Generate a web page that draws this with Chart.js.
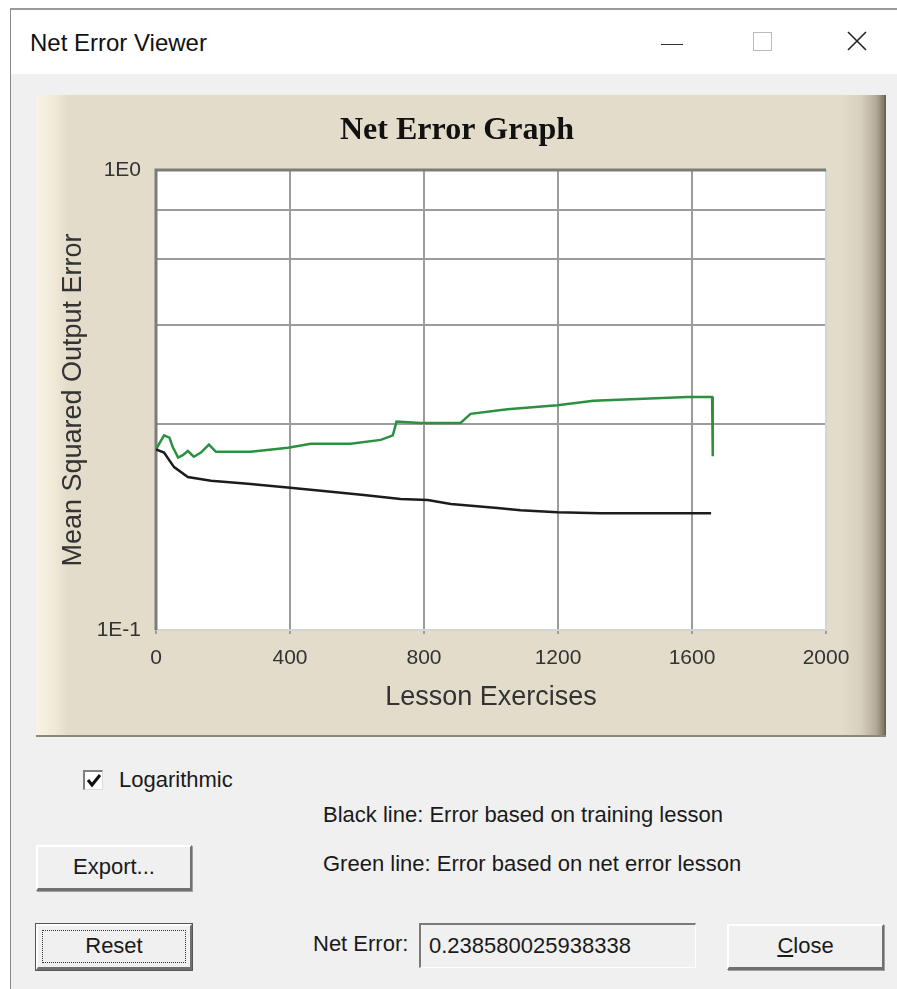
<!DOCTYPE html>
<html>
<head>
<meta charset="utf-8">
<title>Net Error Viewer</title>
<script src="https://cdn.jsdelivr.net/npm/chart.js@4.4.1/dist/chart.umd.min.js"></script>
<style>
    body { margin: 0; background: #fff; font-family: "Liberation Sans", Arial, sans-serif; }
    .window { position: absolute; left: 10px; top: 8px; width: 900px; height: 990px; background: #f0f0f0;
        border-left: 1px solid #8a8a8a; border-top: 2px solid #9a9a9a; overflow: hidden; }
    .titlebar { position: absolute; left: 0; top: 0; width: 100%; height: 64px; background: #fff; }
    .titlebar .caption { position: absolute; left: 19px; top: 19px; font-size: 24px; color: #111; }
    .ctl { position: absolute; }
    .panel { position: absolute; left: 25px; top: 85px; width: 850px; height: 640px;
        background: linear-gradient(to right, #f8f3e6 0px, #f1ead9 18px, #e3dccb 32px, #e3dccb 805px, #d8d0be 825px, #b3ab98 840px, #857f6e 847px, #5e5a4e 850px);
        box-shadow: 0 2px 0 #8d8778; }
    .panel canvas { position: absolute; left: 0; top: 0; }
    .txt { position: absolute; font-size: 22px; color: #1a1a1a; white-space: nowrap; }
    .btn { position: absolute; box-sizing: border-box; background: #f0f0f0; font-size: 22px; color: #1a1a1a;
        text-align: center; border-top: 2px solid #fff; border-left: 2px solid #fff;
        border-right: 2px solid #707070; border-bottom: 3px solid #707070; box-shadow: 1px 1px 0 #a0a0a0; }
    .btn.def { outline: 1px solid #555; }
    .btn .focus { position: absolute; left: 4px; top: 4px; right: 4px; bottom: 4px; border: 1px dotted #333; }
    .check { position: absolute; left: 72px; top: 760px; width: 20px; height: 20px; box-sizing: border-box;
        background: #fff; border-top: 2px solid #808080; border-left: 2px solid #808080;
        border-right: 1px solid #ddd; border-bottom: 1px solid #ddd; }
    .field { position: absolute; left: 408px; top: 913px; width: 277px; height: 45px; box-sizing: border-box;
        background: #f0f0f0; border-top: 2px solid #7a7a7a; border-left: 2px solid #7a7a7a;
        border-right: 1px solid #fff; border-bottom: 1px solid #fff; font-size: 22px; color: #1a1a1a;
        padding: 8px 0 0 8px; }
</style>
</head>
<body>
<div class="window">
    <div class="titlebar">
        <div class="caption">Net Error Viewer</div>
        <div class="ctl" style="left:650px;top:34px;width:22px;height:1px;background:#333;"></div>
        <div class="ctl" style="left:742px;top:22px;width:17px;height:17px;border:1px solid #bbb;"></div>
        <svg class="ctl" style="left:836px;top:21px" width="20" height="20"><path d="M1 1 L19 19 M19 1 L1 19" stroke="#222" stroke-width="1.6" fill="none"/></svg>
    </div>
    <div class="panel"><canvas id="netChart" width="850" height="640"></canvas></div>

    <div class="check"><svg width="18" height="18" style="position:absolute;left:0;top:0"><path d="M3 8 L7 13 L15 3" stroke="#111" stroke-width="3" fill="none"/></svg></div>
    <div class="txt" style="left:108px;top:757px;">Logarithmic</div>
    <div class="txt" style="left:312px;top:792px;">Black line: Error based on training lesson</div>
    <div class="txt" style="left:312px;top:841px;">Green line: Error based on net error lesson</div>
    <div class="btn" style="left:25px;top:835px;width:156px;height:46px;line-height:40px;">Export...</div>
    <div class="btn def" style="left:25px;top:914px;width:156px;height:46px;line-height:40px;"><div class="focus"></div>Reset</div>
    <div class="txt" style="left:302px;top:921px;">Net Error:</div>
    <div class="field">0.238580025938338</div>
    <div class="btn" style="left:716px;top:914px;width:157px;height:46px;line-height:40px;"><u>C</u>lose</div>
</div>

<script>
// lesson exercises (x) and mean squared error (y)
const trainX = [0, 24, 54, 95, 164, 274, 393, 500, 620, 730, 811, 880, 1019, 1088, 1198, 1326, 1657];
const trainY = [0.247, 0.243, 0.226, 0.215, 0.211, 0.208, 0.204, 0.2005, 0.1965, 0.1926, 0.1917, 0.1878, 0.1841, 0.1822, 0.1804, 0.1795, 0.1795];

const netX = [0, 24, 40, 50, 66, 80, 95, 113, 134, 158, 179, 283, 394, 462, 581, 671, 707, 718, 790, 909, 939, 1049, 1198, 1306, 1586, 1660, 1662];
const netY = [0.247, 0.265, 0.262, 0.25, 0.237, 0.24, 0.245, 0.238, 0.243, 0.253, 0.244, 0.244, 0.249, 0.254, 0.254, 0.259, 0.265, 0.284, 0.282, 0.282, 0.295, 0.302, 0.308, 0.315, 0.321, 0.321, 0.2386];

const xTicks = [0, 400, 800, 1200, 1600, 2000];
const yGrid = [0.1, 0.28, 0.46, 0.64, 0.82, 1];
const yTickLabels = ["1E-1", "", "", "", "", "1E0"];

const toPoints = (xs, ys) => xs.map((x, i) => ({ x: x, y: ys[i] }));

// white plot background + sunken frame
const plotFrame = {
    id: "plotFrame",
    beforeDraw(chart) {
        const { ctx, chartArea: a } = chart;
        ctx.save();
        ctx.fillStyle = "#fff";
        ctx.fillRect(a.left, a.top, a.right - a.left, a.bottom - a.top);
        ctx.restore();
    },
    beforeDatasetsDraw(chart) {
        const { ctx, chartArea: a } = chart;
        ctx.save();
        ctx.strokeStyle = "#d4d4d4";
        ctx.lineWidth = 2;
        ctx.beginPath();
        ctx.moveTo(a.left, a.bottom);
        ctx.lineTo(a.right, a.bottom);
        ctx.lineTo(a.right, a.top);
        ctx.stroke();
        ctx.strokeStyle = "#7c7c7c";
        ctx.lineWidth = 3;
        ctx.beginPath();
        ctx.moveTo(a.left, a.bottom);
        ctx.lineTo(a.left, a.top);
        ctx.lineTo(a.right, a.top);
        ctx.stroke();
        ctx.restore();
    }
};

const axisFont = { family: "Liberation Sans, Arial, sans-serif", size: 21 };
const titleFont = { family: "Liberation Sans, Arial, sans-serif", size: 27 };

new Chart(document.getElementById("netChart"), {
    type: "line",
    data: {
        datasets: [
            { label: "Training", data: toPoints(trainX, trainY), borderColor: "#1c1c1c", borderWidth: 2.5 },
            { label: "Net error", data: toPoints(netX, netY), borderColor: "#2b9140", borderWidth: 2.5 }
        ]
    },
    plugins: [plotFrame],
    options: {
        responsive: false,
        animation: false,
        events: [],
        elements: { point: { radius: 0 }, line: { tension: 0 } },
        // left padding only to centre the title over the panel like the original
        layout: { padding: { left: 52, top: 0, right: 60, bottom: 0 } },
        plugins: {
            legend: { display: false },
            tooltip: { enabled: false },
            title: {
                display: true,
                text: "Net Error Graph",
                color: "#111",
                font: { family: "Liberation Serif, Times New Roman, serif", size: 32, weight: "bold" },
                padding: { top: 17, bottom: 19.6 }
            }
        },
        scales: {
            x: {
                type: "linear",
                min: 0,
                max: 2000,
                afterBuildTicks: scale => { scale.ticks = xTicks.map(v => ({ value: v })); },
                afterFit: scale => { scale.height = 105; },
                grid: { color: "#9c9c9c", lineWidth: 2, drawTicks: true, tickLength: 4 },
                border: { display: false },
                ticks: { color: "#333", font: axisFont, padding: 12, maxRotation: 0, callback: v => v },
                title: { display: true, text: "Lesson Exercises", color: "#333", font: titleFont, padding: { top: 0, bottom: 21 } }
            },
            y: {
                type: "logarithmic",
                min: 0.1,
                max: 1,
                afterBuildTicks: scale => { scale.ticks = yGrid.map(v => ({ value: v })); },
                afterFit: scale => { scale.width = 68; },
                grid: { color: "#9c9c9c", lineWidth: 2, drawTicks: false },
                border: { display: false },
                ticks: { color: "#333", font: axisFont, padding: 15,
                    callback: (v, i) => yTickLabels[i] },
                title: { display: true, text: "Mean Squared Output Error", color: "#333", font: titleFont, padding: { top: -31, bottom: 0 } }
            }
        }
    }
});
</script>
</body>
</html>
